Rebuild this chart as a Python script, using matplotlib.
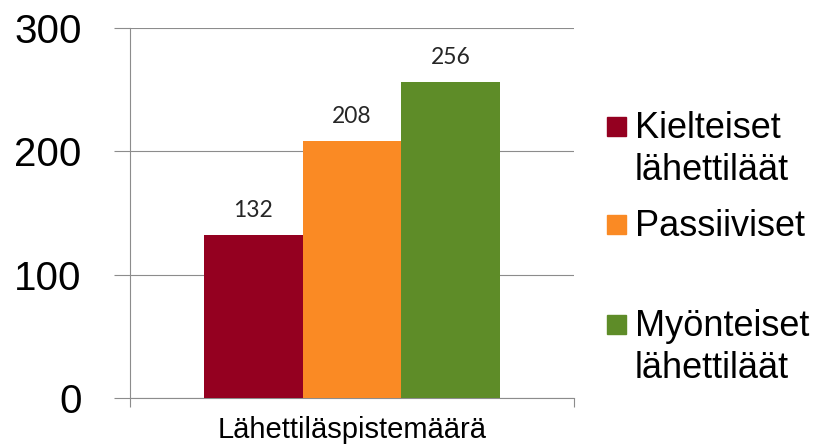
import matplotlib.pyplot as plt
from matplotlib.patches import Rectangle

# data
category = "Lähettiläspistemäärä"
series = ["Kielteiset\nlähettiläät", "Passiiviset", "Myönteiset\nlähettiläät"]
values = [132, 208, 256]
colors = ["#940020", "#FA8A24", "#5E8C28"]
yticks = [0, 100, 200, 300]

W, H = 819, 448
fig = plt.figure(figsize=(W / 100, H / 100), dpi=100)
ax = fig.add_axes([129.7 / W, 1 - 398 / H, (574 - 129.7) / W, (398 - 28) / H])

grid_col = "#8c8c8c"
bar_w = 98.5 / (574 - 129.7)

for i, (v, c) in enumerate(zip(values, colors)):
    x = (i - 1) * bar_w
    ax.bar(x, v, width=bar_w, color=c, zorder=3)
    ax.annotate(str(v), (x, v), xytext=(0, 13), textcoords="offset points",
                ha="center", va="baseline", fontsize=16.5, family="Lato",
                color="#262626")

ax.set_xlim(-0.5, 0.5)
ax.set_ylim(0, 300)

# y axis
ax.set_yticks(yticks)
ax.set_yticklabels([str(t) for t in yticks], family="Liberation Sans", fontsize=29)
ax.tick_params(axis="y", length=11.5, width=0.8, color=grid_col, pad=23)
ax.yaxis.grid(True, color=grid_col, linewidth=0.8, zorder=0)

# x axis: category label in middle, ticks at category boundaries
ax.set_xticks([0])
ax.set_xticklabels([category], family="Liberation Sans", fontsize=21)
ax.tick_params(axis="x", which="major", length=0, pad=13)
ax.set_xticks([-0.5, 0.5], minor=True)
ax.tick_params(axis="x", which="minor", length=6.5, width=0.8, color=grid_col)

for s in ["top", "right"]:
    ax.spines[s].set_visible(False)
for s in ["left", "bottom"]:
    ax.spines[s].set_color(grid_col)
    ax.spines[s].set_linewidth(0.8)

# legend drawn by hand so the squares line up with the first line of text
sq_centers = [126.5, 224.5, 324]
line_h = 42
for lab, c, yc in zip(series, colors, sq_centers):
    fig.add_artist(Rectangle((607 / W, 1 - (yc + 9.5) / H), 19 / W, 19 / H,
                             transform=fig.transFigure, color=c))
    for k, line in enumerate(lab.split("\n")):
        fig.text(635 / W, 1 - (yc + 11.5 + k * line_h) / H, line, ha="left",
                 va="baseline", fontsize=26, family="Liberation Sans")

fig.savefig("out.png", dpi=100)
